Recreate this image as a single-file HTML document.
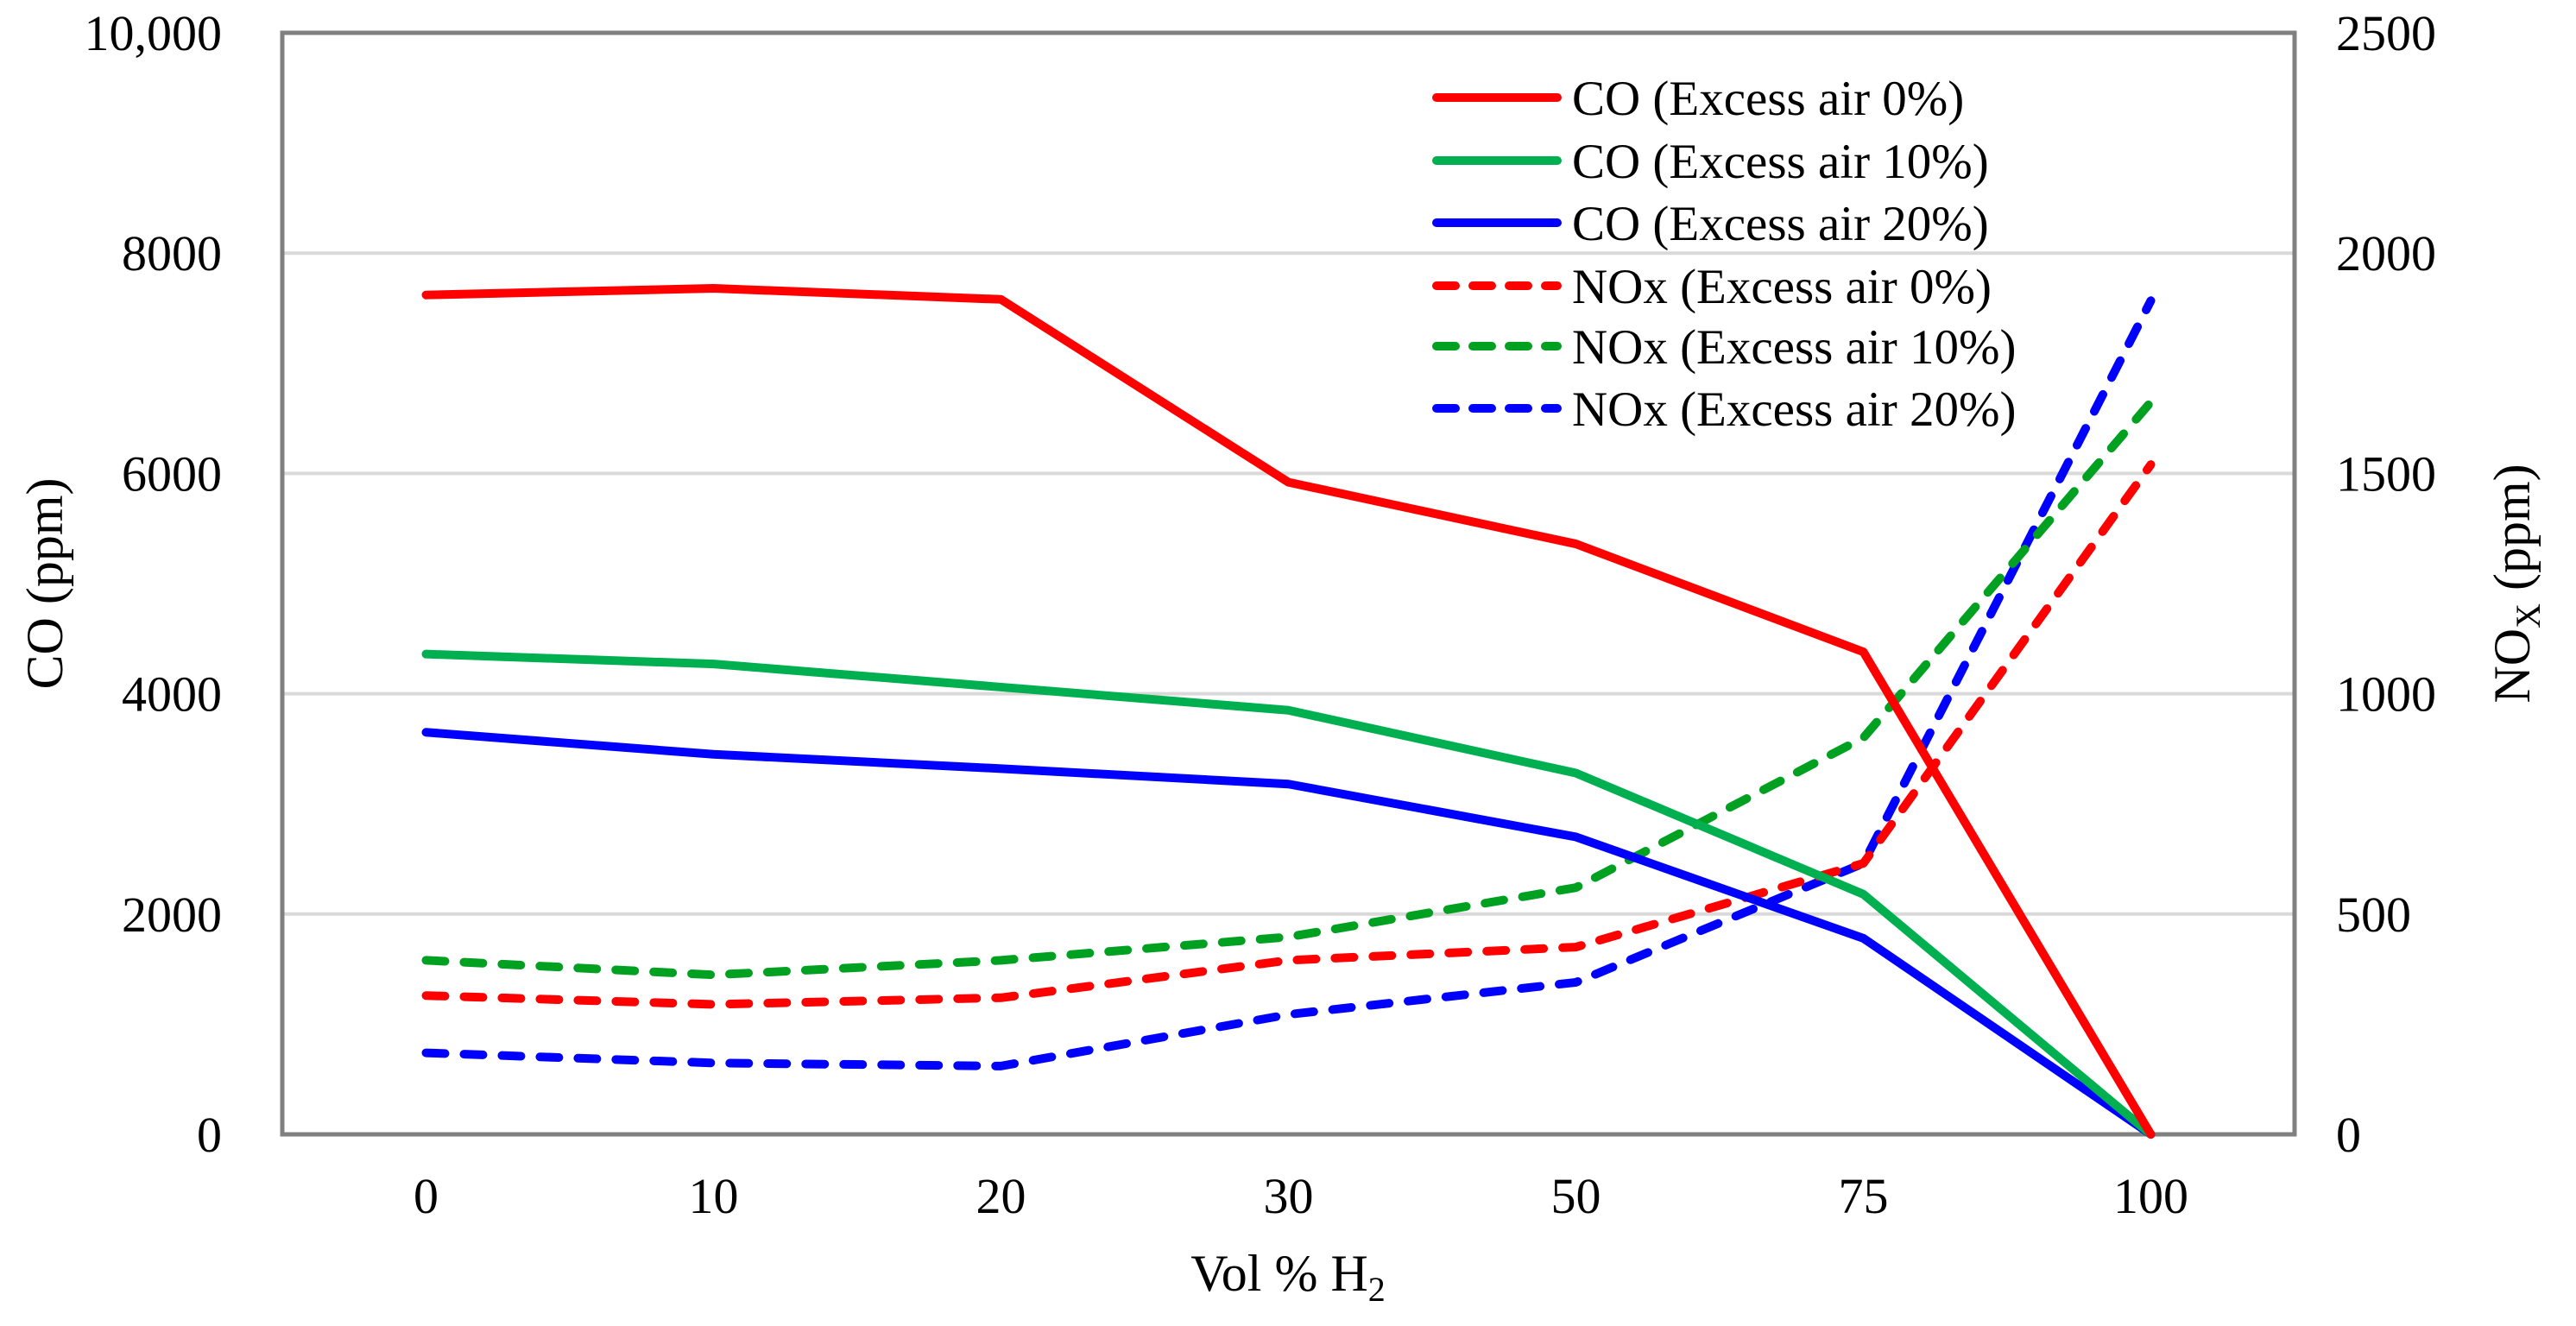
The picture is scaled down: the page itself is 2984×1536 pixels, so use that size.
<!DOCTYPE html>
<html><head><meta charset="utf-8"><style>
html,body{margin:0;padding:0;background:#fff;}
svg{display:block;font-family:"Liberation Serif",serif;}
</style></head><body>
<svg id="chart" width="2984" height="1536" viewBox="0 0 2984 1536" xmlns="http://www.w3.org/2000/svg"></svg>
<script>
const categories = ["0","10","20","30","50","75","100"];
const coAir0 = [7620,7680,7580,5920,5360,4380,0];
const coAir10 = [4360,4270,4060,3850,3280,2180,0];
const coAir20 = [3650,3450,3320,3180,2700,1780,0];
const noxAir0 = [315,295,310,395,425,615,1520];
const noxAir10 = [395,362,395,448,560,900,1662];
const noxAir20 = [185,162,155,272,345,615,1892];
const leftTicks = [0,2000,4000,6000,8000,10000];
const leftTickLabels = ["0","2000","4000","6000","8000","10,000"];
const rightTicks = [0,500,1000,1500,2000,2500];
const seriesNames = ["CO (Excess air 0%)","CO (Excess air 10%)","CO (Excess air 20%)","NOx (Excess air 0%)","NOx (Excess air 10%)","NOx (Excess air 20%)"];

const NS="http://www.w3.org/2000/svg";
const svg=document.getElementById('chart');
const L=327,R=2658,T=38,B=1314;
const bw=(R-L)/categories.length;
function xS(i){return L+bw*(i+0.5);}
function yL(v){return B-(v/10000)*(B-T);}
function yR(v){return B-(v/2500)*(B-T);}
function mk(tag,attrs){const e=document.createElementNS(NS,tag);for(const k in attrs)e.setAttribute(k,attrs[k]);svg.appendChild(e);return e;}

// gridlines
leftTicks.forEach((t,i)=>{
  if(t===0||t===10000)return;
  const g=mk('line',{x1:L,x2:R,y1:yL(t),y2:yL(t),stroke:'#d9d9d9','stroke-width':4});
  
  
});
// frame
const fr=mk('rect',{x:L,y:T,width:R-L,height:B-T,fill:'none',stroke:'#808080','stroke-width':5});



// left ticks
leftTicks.forEach((t,i)=>{
  const e=mk('text',{x:257,y:yL(t)+20,'text-anchor':'end','font-size':58,fill:'#000'});
  e.textContent=leftTickLabels[i];
  
  
});
rightTicks.forEach(t=>{
  const e=mk('text',{x:2706,y:yR(t)+20,'text-anchor':'start','font-size':58,fill:'#000'});
  e.textContent=String(t);
  
  
});
categories.forEach((c,i)=>{
  const e=mk('text',{x:xS(i),y:1405,'text-anchor':'middle','font-size':58,fill:'#000'});
  e.textContent=c;
  
  
});

// series
const series=[
 {d:coAir0,c:'#ff0000',dash:false,y:yL,n:'co-air-0-line'},
 {d:coAir10,c:'#00b050',dash:false,y:yL,n:'co-air-10-line'},
 {d:coAir20,c:'#0000ff',dash:false,y:yL,n:'co-air-20-line'},
 {d:noxAir0,c:'#ff0000',dash:true,y:yR,n:'nox-air-0-line'},
 {d:noxAir10,c:'#00a020',dash:true,y:yR,n:'nox-air-10-line'},
 {d:noxAir20,c:'#0000ff',dash:true,y:yR,n:'nox-air-20-line'}
];
series.slice().reverse().forEach(s=>{
  const pts=s.d.map((v,i)=>xS(i)+','+s.y(v)).join(' ');
  const a={points:pts,fill:'none',stroke:s.c,'stroke-width':10,'stroke-linejoin':'round','stroke-linecap':'round'};
  if(s.dash)a['stroke-dasharray']='22 22';
  const e=mk('polyline',a);
  
  
});

// legend
const legY=[113,186,258,331,401,473];
series.forEach((s,i)=>{
  const a={x1:1664,x2:1804,y1:legY[i],y2:legY[i],stroke:s.c,'stroke-width':10,'stroke-linecap':'round'};
  if(s.dash)a['stroke-dasharray']='22 20';
  const ln=mk('line',a);
  
  
  const t=mk('text',{x:1821,y:legY[i]+20,'font-size':57,fill:'#000'});
  t.textContent=seriesNames[i];
  
  
});

// axis titles
const yt=mk('text',{x:0,y:0,transform:'translate(72,676) rotate(-90)','text-anchor':'middle','font-size':60,fill:'#000'});
yt.textContent='CO (ppm)';


const rt=mk('text',{x:0,y:0,transform:'translate(2930,676) rotate(-90)','text-anchor':'middle','font-size':60,fill:'#000'});
rt.innerHTML='NO<tspan font-size="40" dy="12">X</tspan><tspan dy="-12"> (ppm)</tspan>';


const xt=mk('text',{x:1492,y:1495,'text-anchor':'middle','font-size':60,fill:'#000'});
xt.innerHTML='Vol % H<tspan font-size="40" dy="12">2</tspan>';


</script>
</body></html>
